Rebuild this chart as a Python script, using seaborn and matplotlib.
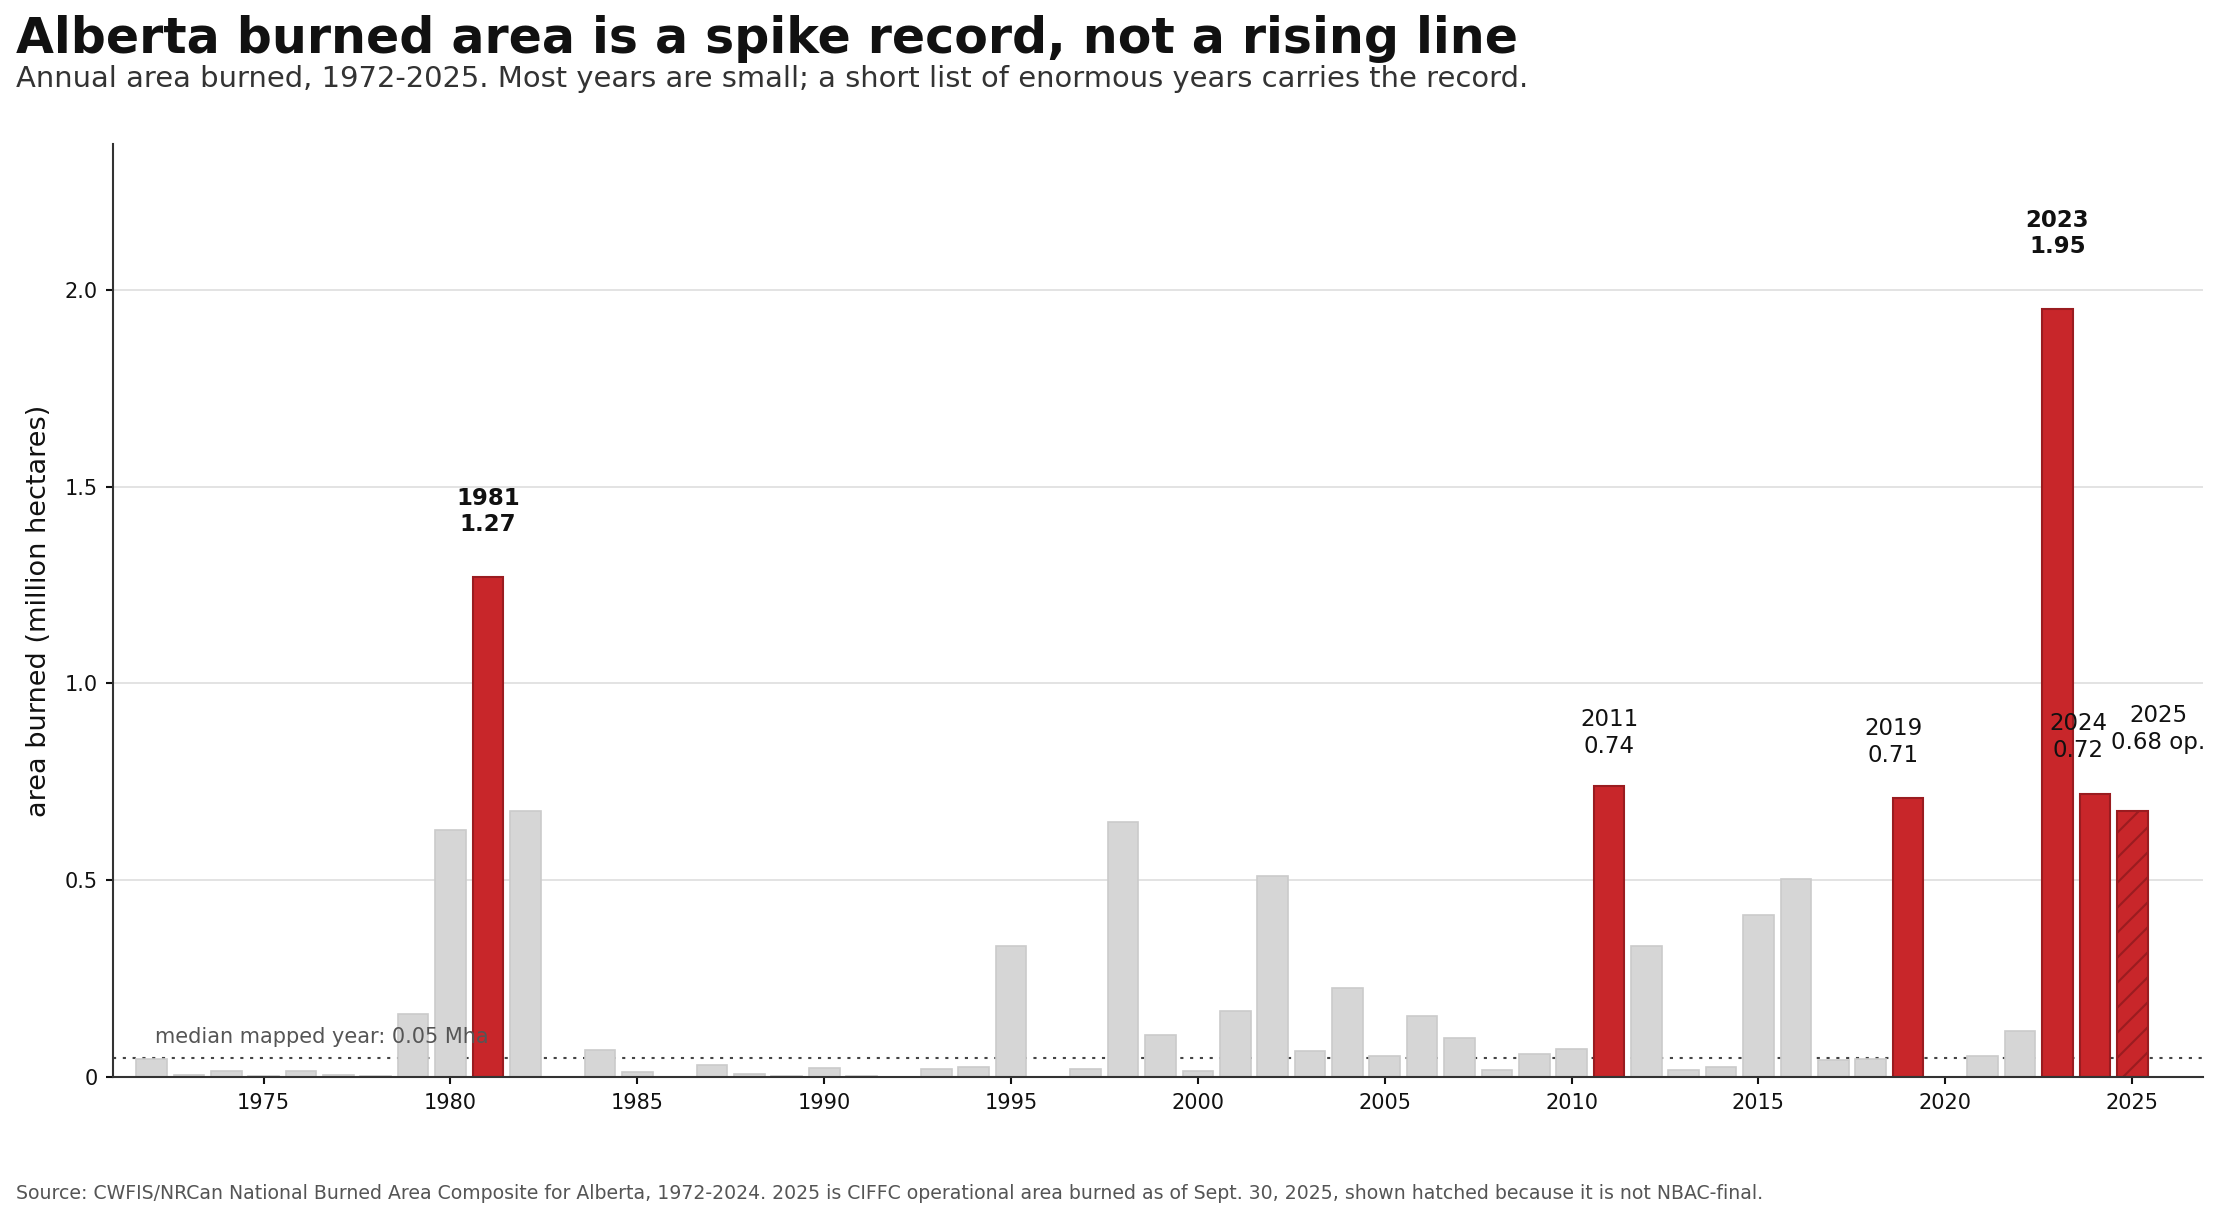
import numpy as np
import pandas as pd
import matplotlib
matplotlib.use("Agg")
import matplotlib.pyplot as plt
import seaborn as sns

# annual burned area in Alberta, million hectares
YEARS = list(range(1972, 2026))
AREA_MHA = [
    0.046, 0.005, 0.016, 0.003, 0.016, 0.005, 0.003, 0.161, 0.629, 1.27,   # 1972-1981
    0.677, 0.0, 0.070, 0.014, 0.0, 0.031, 0.009, 0.003, 0.024, 0.003,      # 1982-1991
    0.0, 0.021, 0.026, 0.334, 0.0, 0.021, 0.647, 0.108, 0.016, 0.169,      # 1992-2001
    0.512, 0.067, 0.227, 0.054, 0.156, 0.100, 0.019, 0.059, 0.072, 0.74,   # 2002-2011
    0.334, 0.019, 0.026, 0.413, 0.504, 0.044, 0.047, 0.71, 0.0, 0.054,     # 2012-2021
    0.118, 1.95, 0.72, 0.677,                                              # 2022-2025
]
HIGHLIGHT = [1981, 2011, 2019, 2023, 2024, 2025]
BOLD_YEARS = [1981, 2023]
PROVISIONAL = 2025
MEDIAN_MHA = 0.05

TITLE = "Alberta burned area is a spike record, not a rising line"
SUBTITLE = ("Annual area burned, 1972-2025. Most years are small; "
            "a short list of enormous years carries the record.")
SOURCE = ("Source: CWFIS/NRCan National Burned Area Composite for Alberta, 1972-2024. "
          "2025 is CIFFC operational area burned as of Sept. 30, 2025, "
          "shown hatched because it is not NBAC-final.")

GRAY, GRAY_EDGE = "#d6d6d6", "#cbcbcb"
RED, RED_EDGE = "#c8262a", "#9a1c20"

# label nudges (x in years, y in Mha above the bar)
LABEL_NUDGE = {1981: (0, 0.104), 2011: (0, 0.071), 2019: (-0.4, 0.079),
               2023: (0, 0.13), 2024: (-0.45, 0.081), 2025: (0.7, 0.145)}

sns.set_theme(style="white")
plt.rcParams["font.family"] = ["DejaVu Sans"]
plt.rcParams["hatch.linewidth"] = 1.0

df = pd.DataFrame({"year": YEARS, "mha": AREA_MHA})
df["group"] = np.where(df["year"].isin(HIGHLIGHT), "spike", "other")

fig, ax = plt.subplots(figsize=(2223 / 150, 1219 / 150), dpi=150)
fig.subplots_adjust(left=0.051, right=0.9911, bottom=0.1163, top=0.8819)

sns.barplot(data=df, x="year", y="mha", hue="group",
            palette={"other": GRAY, "spike": RED}, saturation=1,
            native_scale=True, dodge=False, width=0.82, errorbar=None,
            legend=False, ax=ax, zorder=2)

for p in ax.patches:
    yr = int(round(p.get_x() + p.get_width() / 2))
    if yr in HIGHLIGHT:
        p.set_edgecolor(RED_EDGE)
        p.set_linewidth(1.0)
    else:
        p.set_edgecolor(GRAY_EDGE)
        p.set_linewidth(0.8)
    if yr == PROVISIONAL:
        p.set_hatch("//")

ax.axhline(MEDIAN_MHA, color="#444444", lw=1.0, ls=(0, (1.5, 3.2)), zorder=1)
ax.text(1972.1, MEDIAN_MHA + 0.026, f"median mapped year: {MEDIAN_MHA:.2f} Mha",
        fontsize=10, color="#555555", ha="left", va="bottom", zorder=5)

vals = dict(zip(YEARS, AREA_MHA))
for yr in HIGHLIGHT:
    v = vals[yr]
    dx, dy = LABEL_NUDGE[yr]
    txt = f"{yr}\n{v:.2f}" + (" op." if yr == PROVISIONAL else "")
    ax.text(yr + dx, v + dy, txt, ha="center", va="bottom", fontsize=11,
            fontweight="bold" if yr in BOLD_YEARS else "normal",
            color="#111111", zorder=5)

ax.set_xlim(1970.98, 2026.9)
ax.set_ylim(0, 2.37)
ax.set_xticks(range(1975, 2026, 5))
ax.set_xticklabels([str(y) for y in range(1975, 2026, 5)])
ax.set_yticks([0, 0.5, 1.0, 1.5, 2.0])
ax.set_yticklabels(["0", "0.5", "1.0", "1.5", "2.0"])
ax.set_xlabel("")
ax.set_ylabel("area burned (million hectares)", fontsize=13, color="#111111")
ax.yaxis.set_label_coords(-0.0295, 0.5)

ax.grid(axis="y", color="#e2e2e2", lw=0.9, zorder=0)
ax.grid(axis="x", visible=False)
ax.set_axisbelow(True)
sns.despine(ax=ax)
for side in ["left", "bottom"]:
    ax.spines[side].set_color("#333333")
    ax.spines[side].set_linewidth(1.0)
ax.tick_params(axis="both", labelsize=10, colors="#111111", length=3.5,
               width=1.0, bottom=True, left=True, pad=4)

fig.text(0.0072, 0.9565, TITLE, fontsize=23.5, fontweight="bold",
         color="#111111", ha="left", va="baseline")
fig.text(0.0072, 0.9286, SUBTITLE, fontsize=13.9, color="#333333",
         ha="left", va="baseline")
fig.text(0.0072, 0.0164, SOURCE, fontsize=9.05, color="#555555",
         ha="left", va="baseline")

fig.savefig("out.png", dpi=150)
